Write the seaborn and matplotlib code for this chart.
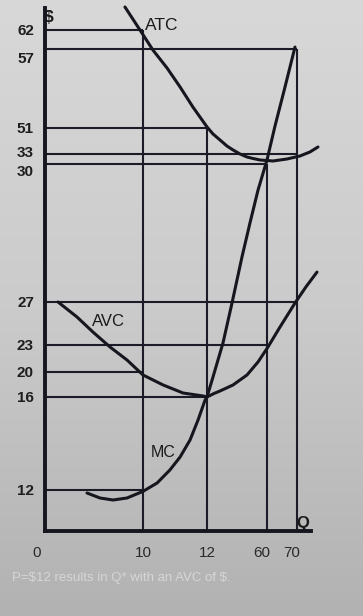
import numpy as np
import matplotlib
matplotlib.use('Agg')
import matplotlib.pyplot as plt
import matplotlib.transforms as mtransforms
from matplotlib.colors import LinearSegmentedColormap
import pandas as pd
import seaborn as sns

# ---------------- data (chart units: Q and $) ----------------
q_ticks = [0, 10, 12, 60, 70]
q_tick_labels = ['0', '10', '12', '60', '70']
p_ticks = [12, 16, 20, 23, 27, 30, 33, 51, 57, 62]
p_tick_labels = ['12', '16', '20', '23', '27', '30', '33', '51', '57', '62']

atc_q = [8.16, 9.69, 10.31, 10.75, 11.16, 11.56, 12.0, 16.8, 22.4, 28.0, 32.8,
         38.4, 44.0, 48.8, 54.4, 62.0, 66.67, 71.0, 74.33, 77.0]
atc_p = [68.05, 62.0, 56.92, 55.56, 54.11, 52.59, 51.08, 46.85, 42.7, 38.5, 35.8,
         33.0, 32.1, 31.65, 31.2, 30.9, 31.5, 32.4, 34.4, 37.85]

mc_q = [4.29, 5.61, 6.94, 8.37, 10.0, 10.44, 10.84, 11.16, 11.47, 11.72, 11.94, 12.0,
        16.8, 24.8, 32.0, 40.0, 46.4, 52.8, 60.0, 62.67, 65.67, 68.67, 69.33]
mc_p = [11.12, 9.66, 9.07, 9.66, 11.6, 12.3, 12.86, 13.42, 14.15, 15.01, 15.87, 16.0,
        19.2, 23.19, 26.9, 27.98, 28.72, 29.43, 31.2, 51.15, 53.81, 56.54, 57.5]

avc_q = [1.33, 3.27, 4.90, 6.63, 8.37, 10.0, 10.63, 11.25, 11.88, 12.0,
         17.6, 22.4, 32.8, 44.0, 52.8, 60.33, 64.33, 69.33, 73.0, 76.67]
avc_p = [27.0, 25.6, 24.2, 22.78, 21.33, 19.52, 17.92, 16.64, 16.16, 16.0,
         16.56, 16.96, 17.92, 19.52, 21.11, 22.78, 24.67, 26.9, 27.33, 27.65]

# guide lines: horizontal from Q=0 to h_end_q at price h_p; vertical from 0 to v_top_p at v_q
h_p = [62, 57, 51, 33, 30, 27, 23, 20, 16, 12]
h_end_q = [10, 70, 12, 70, 60, 70, 60, 10, 12, 10]
v_q = [10, 12, 60, 70]
v_top_p = [62, 51, 30, 57]

curve_names = ['ATC', 'AVC', 'MC']
caption = "P=$12 results in Q* with an AVC of $."

# ---------------- schematic (non-proportional) axis scales ----------------
q_anchor = np.array([-10, 0, 10, 12, 60, 70, 100], float)
q_pos = np.array([-98, 0, 98, 162, 222, 252, 342], float)
p_anchor = np.array([-10, 0, 12, 16, 20, 23, 27, 30, 33, 51, 57, 62, 80], float)
p_pos = np.array([-35, 0, 41, 134, 159, 186, 229, 367, 377, 403, 482, 501, 569.4], float)

def qf(v):
    return np.interp(v, q_anchor, q_pos)
def qi(v):
    return np.interp(v, q_pos, q_anchor)
def pf(v):
    return np.interp(v, p_anchor, p_pos)
def pi_(v):
    return np.interp(v, p_pos, p_anchor)

sns.set_theme(style='white')
plt.rcParams['font.family'] = ['Liberation Sans', 'DejaVu Sans']

W, H = 363, 616
fig = plt.figure(figsize=(W / 100, H / 100), dpi=100)

# photo-like background gradient
bg = fig.add_axes([0, 0, 1, 1], zorder=-10)
grad = np.linspace(0, 1, 256).reshape(-1, 1)
cmap = LinearSegmentedColormap.from_list('bg', ['#d8d8d8', '#cbcbcb', '#b2b2b2'])
bg.imshow(grad, aspect='auto', cmap=cmap, extent=[0, 1, 0, 1])
bg.axis('off')

ax = fig.add_axes([45 / W, 85 / H, (320 - 45) / W, (531 - 3) / H])
ax.patch.set_alpha(0)
ax.set_xscale('function', functions=(qf, qi))
ax.set_yscale('function', functions=(pf, pi_))
ax.set_xlim(0, 77.67)
ax.set_ylim(0, 69.1)

ink = '#16161f'
guide = '#1c1c28'

ax.hlines(h_p, 0, h_end_q, colors=guide, lw=1.5, zorder=2)
ax.vlines(v_q, 0, v_top_p, colors=guide, lw=1.5, zorder=2)

df = pd.concat([
    pd.DataFrame({'Q': atc_q, 'P': atc_p, 'curve': 'ATC'}),
    pd.DataFrame({'Q': avc_q, 'P': avc_p, 'curve': 'AVC'}),
    pd.DataFrame({'Q': mc_q, 'P': mc_p, 'curve': 'MC'}),
])
sns.lineplot(data=df, x='Q', y='P', hue='curve', units='curve', estimator=None,
             sort=False, palette={c: ink for c in curve_names}, lw=2.2,
             legend=False, ax=ax, zorder=3)
for l in ax.lines:
    l.set_solid_capstyle('round')
    l.set_solid_joinstyle('round')
    l.set_clip_on(False)

# axes
for s in ['top', 'right']:
    ax.spines[s].set_visible(False)
for s in ['left', 'bottom']:
    ax.spines[s].set_color(ink)
    ax.spines[s].set_linewidth(2.8)
    ax.spines[s].set_zorder(4)
ax.spines['left'].set_bounds(0, 67.8)
ax.spines['bottom'].set_bounds(0, 74.7)

ax.set_xticks(q_ticks, q_tick_labels)
ax.set_yticks(p_ticks, p_tick_labels)
ax.minorticks_off()
ax.tick_params(axis='both', length=0)
ax.tick_params(axis='y', pad=8, labelsize=11, labelcolor='#1e1e1e')
ax.tick_params(axis='x', pad=11, labelsize=11, labelcolor='#2a2a2a')
for t in ax.get_yticklabels():
    t.set_fontweight('bold')
ax.set_xlabel('')
ax.set_ylabel('')

# small label shifts as in the original drawing (points)
yshift = {'57': -6, '30': -4.5, '33': 1.5}
for t in ax.get_yticklabels():
    d = yshift.get(t.get_text(), 0)
    if d:
        t.set_transform(t.get_transform() + mtransforms.ScaledTranslation(0, d / 72, fig.dpi_scale_trans))
xshift = {'0': -6, '60': -4, '70': -4}
for t in ax.get_xticklabels():
    d = xshift.get(t.get_text(), 0)
    if d:
        t.set_transform(t.get_transform() + mtransforms.ScaledTranslation(d / 72, 0, fig.dpi_scale_trans))

# curve labels and axis letters
ax.text(10.06, 63.3, 'ATC', ha='left', va='center', fontsize=12.5, color='#1a1a1a')
ax.text(4.8, 25.14, 'AVC', ha='left', va='center', fontsize=12, color='#1a1a1a')
ax.text(10.25, 13.63, 'MC', ha='left', va='center', fontsize=11.5, color='#1a1a1a')
ax.text(72.0, 2.34, 'Q', ha='center', va='center', fontsize=12, fontweight='bold', color='#1a1a1a')
ax.text(0.41, 65.4, r'\$', ha='center', va='center', fontsize=12.5, fontweight='bold', color='#1a1a1a')

fig.text(12 / W, 1 - 578 / H, caption.replace('$', r'\$'), ha='left', va='center',
         fontsize=9.5, color='#d6d6d6')

fig.savefig('out.png', dpi=100)
